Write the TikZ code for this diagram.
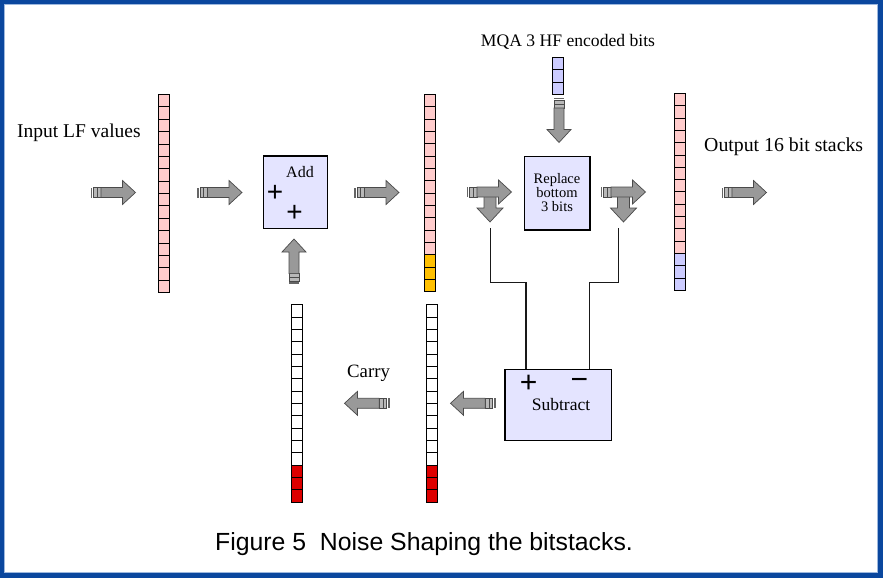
\documentclass[tikz,border=0pt]{standalone}
\usepackage{fontspec}
\setmainfont{Liberation Serif}
\newfontfamily\sansf{Liberation Sans}
\definecolor{pinkc}{HTML}{FFCCCC}
\definecolor{orangec}{HTML}{FFC000}
\definecolor{redc}{HTML}{DD0000}
\definecolor{bluec}{HTML}{CCCCFF}
\definecolor{boxc}{HTML}{E4E4FF}
\definecolor{arrc}{HTML}{999999}
\definecolor{arrline}{HTML}{4A4A4A}
\definecolor{brdc}{HTML}{0A479E}
\definecolor{brdl}{HTML}{9DB8DE}
\tikzset{
  cell/.style={draw=black, line width=1pt, rectangle, inner sep=0pt, minimum width=11pt},
  opbox/.style={draw=black, line width=1.3pt, fill=boxc, rectangle, inner sep=0pt},
  arrfill/.style={draw=arrline, line width=0.7pt, fill=arrc, line join=miter},
  arrtail/.style={draw=arrline, line width=0.6pt, fill=arrc!70},
  arrbar/.style={fill=arrline!85},
  conn/.style={draw=black!90, line width=1.2pt},
  txt/.style={inner sep=0pt},
  plus/.style={inner sep=0pt, font=\sansf\fontsize{28}{30}\selectfont}
}
\newcommand\mkstack[8]{%
  \foreach \i in {1,...,#5}{%
    \ifnum\i>#6\relax\def\cc{#8}\else\def\cc{#7}\fi
    \node[cell, fill=\cc, minimum height=#4pt, anchor=north west] (#1-\i) at ({#2},{#3+(\i-1)*#4}) {};
  }}
\newcommand\sarrow[3]{%
  \begin{scope}[shift={(#1,#2)}, rotate=#3]
    \fill[arrbar] (0,-5) rectangle (1.7,5);
    \draw[arrtail] (2.8,-5) rectangle (6.6,5);
    \draw[arrtail] (6.6,-5) rectangle (10.4,5);
    \draw[arrfill] (10.4,-5) -- (32,-5) -- (32,-12) -- (45,0) -- (32,12) -- (32,5) -- (10.4,5) -- cycle;
  \end{scope}}
\newcommand\dnarrow[2]{%
  \draw[arrfill] ({#1-6},#2) -- ({#1+6},#2) -- ({#1+6},{#2+16}) -- ({#1+13},{#2+16}) -- (#1,{#2+30}) -- ({#1-13},{#2+16}) -- ({#1-6},{#2+16}) -- cycle;}
\begin{document}
\begin{tikzpicture}[x=1pt,y=-1pt]
\useasboundingbox (0,0) rectangle (883,578);
% frame
\fill[brdc] (0,0) rectangle (883,578);
\fill[white] (4,4.3) rectangle (877.5,572.5);
\draw[brdl, line width=1pt] (4,4.3) rectangle (877.5,572.5);

% bit stacks
\mkstack{sa}{158.3}{94}{12.375}{16}{16}{pinkc}{pinkc}
\mkstack{sb}{423.5}{94}{12.33}{16}{13}{pinkc}{orangec}
\mkstack{sc}{290.7}{304.3}{12.34}{16}{13}{white}{redc}
\mkstack{sd}{425.7}{304.3}{12.34}{16}{13}{white}{redc}
\mkstack{se}{674.3}{93}{12.31}{16}{13}{pinkc}{bluec}
\mkstack{sm}{551.7}{56.7}{12.43}{3}{3}{bluec}{bluec}

% boxes
\node[opbox, minimum width=64.4pt, minimum height=72.7pt] (add) at (295.5,192.4) {};
\node[opbox, minimum width=65.7pt, minimum height=73.3pt] (rep) at (557.2,193.3) {};
\node[opbox, minimum width=106.3pt, minimum height=71.4pt] (sub) at (558.2,405) {};

\node[txt, anchor=base, font=\fontsize{16}{18}\selectfont] (addt) at (300,177) {Add};
\node[plus] (ap1) at (275,193) {+};
\node[plus] (ap2) at (294.5,213) {+};

\node[txt, align=center, font=\fontsize{14.5}{14}\selectfont] (rept) at (557,192.5) {Replace\\bottom\\3 bits};

\node[txt, anchor=base, font=\fontsize{17.5}{19}\selectfont] (subt) at (561,410.7) {Subtract};
\node[plus, font=\sansf\fontsize{30}{32}\selectfont] (sp) at (528.7,384) {+};
\node[plus, font=\sansf\fontsize{30}{32}\selectfont] (sm) at (579.5,384) {\char"2212};

% arrows
\sarrow{90.5}{192.5}{0}
\sarrow{197}{192.5}{0}
\sarrow{354}{192.5}{0}
\dnarrow{490}{192}
\sarrow{466.5}{192}{0}
\dnarrow{623.5}{192}
\sarrow{600.5}{192}{0}
\sarrow{721.5}{192.5}{0}
\sarrow{559}{97.5}{-90}
\sarrow{294}{284}{90}
\sarrow{389.5}{403.3}{180}
\sarrow{495.5}{403.3}{180}

% connectors to subtract
\coordinate (cl) at (490.7,228);
\coordinate (cr) at (618.5,228);
\coordinate (jl) at (526,282.3);
\coordinate (jr) at (589.7,282.3);
\draw[conn] (cl) |- (jl) -- (jl |- sub.north);
\draw[conn] (cr) |- (jr) -- (jr |- sub.north);

% labels
\node[txt, anchor=base west, font=\fontsize{19.5}{22}\selectfont] (inlf) at (17,137.5) {Input LF values};
\node[txt, anchor=base west, font=\fontsize{19.8}{22}\selectfont] (outl) at (704,151) {Output 16 bit stacks};
\node[txt, anchor=base, font=\fontsize{17.6}{20}\selectfont] (mqa) at (568,47) {MQA 3 HF encoded bits};
\node[txt, anchor=base west, font=\fontsize{18.8}{21}\selectfont] (carry) at (347,377.3) {Carry};
\node[txt, anchor=base west, font=\sansf\fontsize{24.8}{28}\selectfont] (cap) at (215,550) {Figure 5~~Noise Shaping the bitstacks.};
\end{tikzpicture}
\end{document}
